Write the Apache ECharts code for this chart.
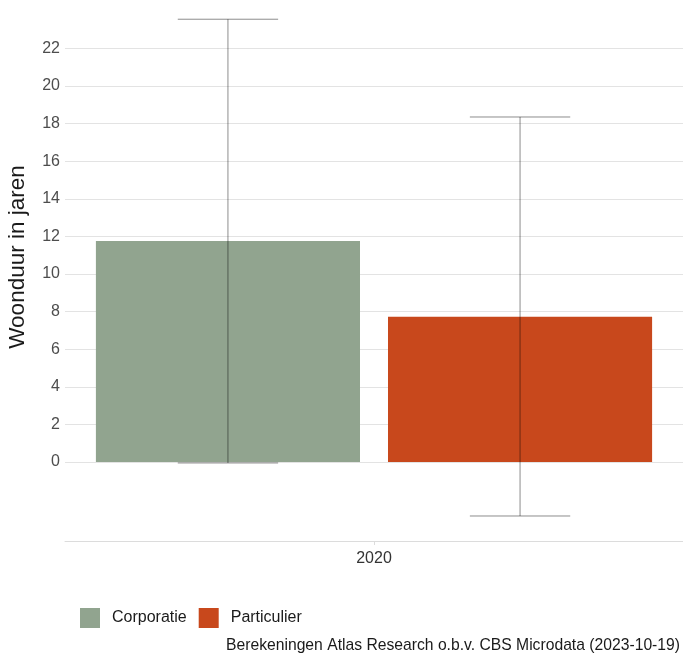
<!DOCTYPE html>
<html>
<head>
<meta charset="utf-8">
<script src="https://cdn.jsdelivr.net/npm/echarts@6/dist/echarts.min.js"></script>
<style>
html, body { margin: 0; padding: 0; background: #fff; }
#main { width: 683px; height: 654px; }
</style>
</head>
<body>
<div id="main"></div>
<script>
var categories = ['2020'];
var groups = ['Corporatie', 'Particulier'];
var means = [11.75, 7.72];
var lower = [-0.05, -2.87];
var upper = [23.55, 18.35];
var yTicks = [0, 2, 4, 6, 8, 10, 12, 14, 16, 18, 20, 22];
var colors = ['#91a48f', '#c8481c'];

var catGap = 0.10, barGap = 0.106;

var myChart = echarts.init(document.getElementById('main'));

var series = groups.map(function (g, i) {
    return {
        name: g,
        type: 'bar',
        data: [means[i]],
        barGap: (barGap * 100) + '%',
        barCategoryGap: (catGap * 100) + '%',
        itemStyle: { color: colors[i] },
        z: 2
    };
});

// error bars, placed on the bar centres
series.push({
    type: 'custom',
    name: 'err',
    data: groups.map(function (g, i) { return [0, lower[i], upper[i], i]; }),
    z: 5,
    renderItem: function (params, api) {
        var idx = api.value(3);
        var band = api.size([1, 0])[0];
        var bw = band * (1 - catGap) / (2 + barGap);
        var off = (idx === 0 ? -1 : 1) * bw * (1 + barGap) / 2;
        var lo = api.coord([api.value(0), api.value(1)]);
        var hi = api.coord([api.value(0), api.value(2)]);
        var x = lo[0] + off;
        var cap = bw * 0.19;
        var style = { stroke: 'rgba(0,0,0,0.45)', lineWidth: 1 };
        return {
            type: 'group',
            children: [
                { type: 'line', shape: { x1: x, y1: lo[1], x2: x, y2: hi[1] }, style: style },
                { type: 'line', shape: { x1: x - cap, y1: lo[1], x2: x + cap, y2: lo[1] }, style: style },
                { type: 'line', shape: { x1: x - cap, y1: hi[1], x2: x + cap, y2: hi[1] }, style: style }
            ]
        };
    }
});

option = {
    animation: false,
    backgroundColor: '#fff',
    title: {
        text: 'Berekeningen Atlas Research o.b.v. CBS Microdata (2023-10-19)',
        right: 3,
        top: 638,
        padding: 0,
        textStyle: {
            fontFamily: 'Liberation Sans',
            fontWeight: 'normal',
            fontSize: 15.7,
            color: '#1a1a1a'
        }
    },
    legend: {
        data: groups,
        left: 80,
        top: 608,
        padding: 0,
        icon: 'rect',
        itemWidth: 20,
        itemHeight: 20,
        itemGap: 12,
        textStyle: {
            fontFamily: 'Liberation Sans',
            fontSize: 16,
            color: '#1a1a1a',
            padding: [0, 0, 0, 7]
        }
    },
    grid: { left: 65, right: 0, top: 7, bottom: 113, containLabel: false, outerBoundsMode: 'none' },
    xAxis: {
        type: 'category',
        data: categories,
        axisLine: { onZero: false, lineStyle: { color: '#dcdcdc' } },
        axisTick: { show: true, alignWithLabel: true, length: 4, lineStyle: { color: '#dcdcdc' } },
        axisLabel: { fontFamily: 'Liberation Sans', fontSize: 16, color: '#333', margin: 10 }
    },
    yAxis: {
        type: 'value',
        min: -4.2,
        max: 24.2,
        name: 'Woonduur in jaren',
        nameLocation: 'middle',
        nameGap: 36,
        nameTextStyle: { fontFamily: 'Liberation Sans', fontSize: 22.5, color: '#1a1a1a', padding: [0, 0, 0, 34] },
        axisLine: { show: false },
        axisTick: { show: false, customValues: yTicks },
        axisLabel: { fontFamily: 'Liberation Sans', fontSize: 16, color: '#4d4d4d', margin: 5, customValues: yTicks },
        splitLine: { show: true, lineStyle: { color: '#e3e3e3', width: 1 } }
    },
    series: series
};
myChart.setOption(option);
</script>
</body>
</html>
